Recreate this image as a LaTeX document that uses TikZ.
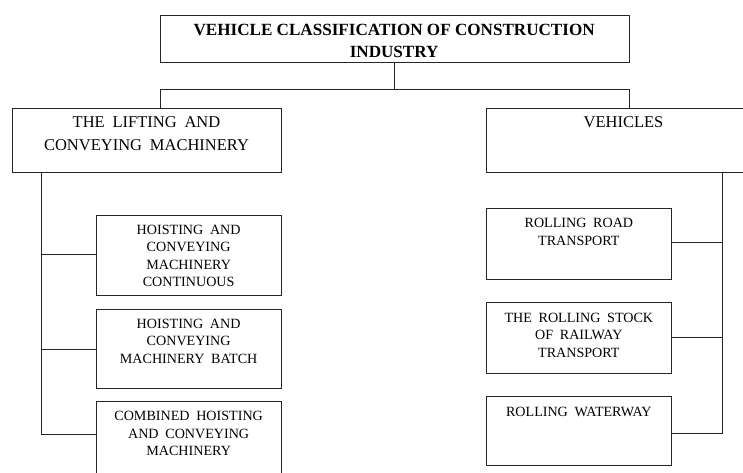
\documentclass[tikz,border=0pt]{standalone}
\usepackage{fontspec}
\setmainfont{Liberation Serif}
\newfontfamily\mainwide[WordSpace=1.5]{Liberation Serif}
\newfontfamily\subwide[WordSpace=1.9]{Liberation Serif}
\usetikzlibrary{calc}
\begin{document}
\begin{tikzpicture}[x=1pt,y=-1pt,
  box/.style={draw=black!85,line width=0.9pt,inner sep=0pt,fill=white},
  ttl/.style={anchor=north,inner sep=0pt,align=center,font=\fontsize{17.1}{22}\selectfont\bfseries},
  maintxt/.style={anchor=north,inner sep=0pt,align=center,font=\mainwide\fontsize{16.5}{23}\selectfont},
  subtxt/.style={anchor=north,inner sep=0pt,align=center,font=\subwide\fontsize{14.1}{17.5}\selectfont},
  link/.style={draw=black!85,line width=0.9pt}]
\clip (0,0) rectangle (743,473);
\fill[white] (0,0) rectangle (743,473);
% boxes
\node[box,minimum width=469.3pt,minimum height=47pt] (top) at (394.65,39.2) {};
\node[box,minimum width=269pt,minimum height=64.4pt] (L) at (146.5,140.5) {};
\node[box,minimum width=275pt,minimum height=64.4pt] (R) at (623.5,140.5) {};
\node[box,minimum width=184.7pt,minimum height=80.4pt] (L1) at (188.65,255.5) {};
\node[box,minimum width=184.7pt,minimum height=79pt] (L2) at (188.65,348.5) {};
\node[box,minimum width=184.7pt,minimum height=80pt] (L3) at (188.65,441.5) {};
\node[box,minimum width=185.7pt,minimum height=71pt] (R1) at (578.85,243.5) {};
\node[box,minimum width=185.7pt,minimum height=71pt] (R2) at (578.85,338.2) {};
\node[box,minimum width=185.7pt,minimum height=68.3pt] (R3) at (578.85,430.85) {};
% texts
\node[ttl] (topt) at ([xshift=-0.5pt,yshift=-9pt]top.north) {VEHICLE CLASSIFICATION OF CONSTRUCTION\\INDUSTRY};
\node[maintxt] (Lt) at ([yshift=-8.5pt]L.north) {THE LIFTING AND\\CONVEYING MACHINERY};
\node[maintxt] (Rt) at ([yshift=-8.5pt]R.north) {VEHICLES};
\node[subtxt] (L1t) at ([yshift=-10pt]L1.north) {HOISTING AND\\CONVEYING\\MACHINERY\\CONTINUOUS};
\node[subtxt] (L2t) at ([yshift=-10pt]L2.north) {HOISTING AND\\CONVEYING\\MACHINERY BATCH};
\node[subtxt] (L3t) at ([yshift=-10pt]L3.north) {COMBINED HOISTING\\AND CONVEYING\\MACHINERY};
\node[subtxt] (R1t) at ([yshift=-10.5pt]R1.north) {ROLLING ROAD\\TRANSPORT};
\node[subtxt] (R2t) at ([yshift=-10.5pt]R2.north) {THE ROLLING STOCK\\OF RAILWAY\\TRANSPORT};
\node[subtxt] (R3t) at ([yshift=-10.5pt]R3.north) {ROLLING WATERWAY};
% connector coordinates
\coordinate (jl) at (160,89.5);
\coordinate (jr) at (629.3,89.5);
\coordinate (sl) at (41.7,0);
\coordinate (sr) at (722.3,0);
\coordinate (y1) at (0,254);
\coordinate (y2) at (0,349.3);
\coordinate (y3) at (0,434);
\coordinate (z1) at (0,242.3);
\coordinate (z2) at (0,337.7);
\coordinate (z3) at (0,433.3);
% connectors
\draw[link] (top.south) -- (top.south |- jl);
\draw[link] (L.north -| jl) -- (jl) -- (jr) -- (R.north -| jr);
\draw[link] (L.south -| sl) -- (sl |- y3) -- (L3.west |- y3);
\draw[link] (sl |- y1) -- (L1.west |- y1);
\draw[link] (sl |- y2) -- (L2.west |- y2);
\draw[link] (R.south -| sr) -- (sr |- z3) -- (R3.east |- z3);
\draw[link] (sr |- z1) -- (R1.east |- z1);
\draw[link] (sr |- z2) -- (R2.east |- z2);
\end{tikzpicture}
\end{document}
